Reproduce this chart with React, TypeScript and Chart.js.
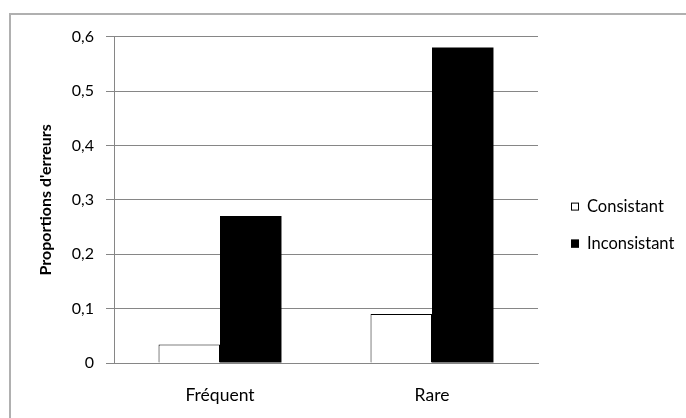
import React, { useEffect, useRef } from 'react';
import { Chart, registerables } from 'chart.js';

Chart.register(...registerables);

const categories = ['Fréquent', 'Rare'];
const seriesNames = ['Consistant', 'Inconsistant'];
const consistantValues = [0.034, 0.09];
const inconsistantValues = [0.27, 0.58];
const yTickLabels = ['0', '0,1', '0,2', '0,3', '0,4', '0,5', '0,6'];
const yAxisTitle = "Proportions d'erreurs";

const FONT = 'Lato, "DejaVu Sans", sans-serif';
const GRID = '#868686';

const sideLegend = {
  id: 'sideLegend',
  afterDraw(chart: any) {
    const { ctx, chartArea } = chart;
    const x = chartArea.right + 33;
    const ys = [chartArea.top + 170, chartArea.top + 207];
    chart.data.datasets.forEach((ds: any, i: number) => {
      const y = ys[i];
      ctx.save();
      ctx.fillStyle = ds.backgroundColor;
      ctx.fillRect(x, y - 4, 8, 8);
      ctx.strokeStyle = '#000';
      ctx.lineWidth = 1;
      ctx.strokeRect(x + 0.5, y - 3.5, 7, 7);
      ctx.fillStyle = '#000';
      ctx.font = '16.5px ' + FONT;
      ctx.textBaseline = 'middle';
      ctx.textAlign = 'left';
      ctx.fillText(ds.label, x + 16, y);
      ctx.restore();
    });
  },
};

export default function App() {
  const ref = useRef<HTMLCanvasElement | null>(null);

  useEffect(() => {
    if (!ref.current) return;
    const chart = new Chart(ref.current, {
      type: 'bar',
      data: {
        labels: categories,
        datasets: [
          {
            label: seriesNames[0],
            data: consistantValues,
            backgroundColor: '#ffffff',
            borderColor: '#000000',
            borderWidth: 1,
          },
          {
            label: seriesNames[1],
            data: inconsistantValues,
            backgroundColor: '#000000',
            borderColor: '#000000',
            borderWidth: 0,
          },
        ],
      },
      options: {
        responsive: false,
        animation: false,
        events: [],
        layout: { padding: { top: 18, right: 148, left: 0, bottom: 0 } },
        datasets: { bar: { categoryPercentage: 0.58, barPercentage: 1 } },
        plugins: {
          legend: { display: false },
          tooltip: { enabled: false },
        },
        scales: {
          x: {
            grid: { display: false, drawTicks: false },
            border: { display: true, color: GRID, width: 1 },
            ticks: {
              color: '#000',
              font: { family: FONT, size: 17.5 },
              padding: 22,
            },
            afterFit: (s: any) => {
              s.height = 55;
            },
          },
          y: {
            min: 0,
            max: 0.6,
            grid: { color: GRID, lineWidth: 1, drawTicks: true, tickLength: 8, tickColor: GRID },
            border: { display: true, color: GRID, width: 1 },
            ticks: {
              stepSize: 0.1,
              color: '#000',
              font: { family: FONT, size: 16 },
              padding: 12,
              callback: (_v: any, i: number) => yTickLabels[i],
            },
            title: {
              display: true,
              text: yAxisTitle,
              color: '#000',
              font: { family: FONT, size: 16, weight: 'bold' },
              padding: { top: 25, bottom: 0 },
            },
            afterFit: (s: any) => {
              s.width = 103;
            },
          },
        },
      },
      plugins: [sideLegend],
    } as any);
    return () => chart.destroy();
  }, []);

  return (
    <div
      style={{
        position: 'fixed',
        left: 0,
        top: 0,
        width: 686,
        height: 418,
        overflow: 'hidden',
        background: '#fff',
      }}
    >
      <div
        style={{
          position: 'absolute',
          left: 9,
          top: 13,
          width: 700,
          height: 430,
          borderLeft: '2px solid #b0b0b0',
          borderTop: '2px solid #b0b0b0',
        }}
      />
      <canvas
        ref={ref}
        width={675}
        height={403}
        style={{ position: 'absolute', left: 11, top: 15, width: 675, height: 403 }}
      />
    </div>
  );
}
